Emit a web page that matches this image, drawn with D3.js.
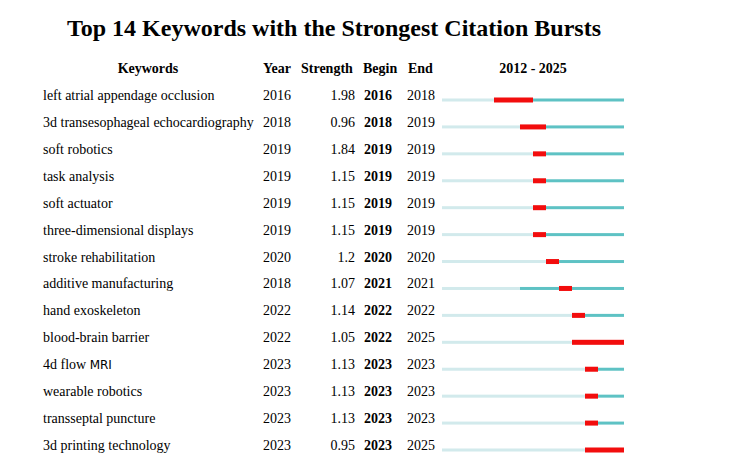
<!DOCTYPE html>
<html><head><meta charset="utf-8">
<script src="https://cdn.jsdelivr.net/npm/d3@7"></script>
<style>body{margin:0;background:#fff}</style>
</head><body>
<script>
const keywords = ["left atrial appendage occlusion","3d transesophageal echocardiography","soft robotics","task analysis","soft actuator","three-dimensional displays","stroke rehabilitation","additive manufacturing","hand exoskeleton","blood-brain barrier","4d flow MRI","wearable robotics","transseptal puncture","3d printing technology"];
const years = [2016,2018,2019,2019,2019,2019,2020,2018,2022,2022,2023,2023,2023,2023];
const strengths = ["1.98","0.96","1.84","1.15","1.15","1.15","1.2","1.07","1.14","1.05","1.13","1.13","1.13","0.95"];
const begins = [2016,2018,2019,2019,2019,2019,2020,2021,2022,2022,2023,2023,2023,2023];
const ends = [2018,2019,2019,2019,2019,2019,2020,2021,2022,2025,2023,2023,2023,2025];
const startYear = 2012, endYear = 2025;
const title = "Top 14 Keywords with the Strongest Citation Bursts";
const headers = ["Keywords","Year","Strength","Begin","End","2012 - 2025"];

const W = 753, H = 464;
const svg = d3.select("body").append("svg").attr("width", W).attr("height", H);
const serif = "'Liberation Serif','Times New Roman',serif";

const x = d3.scaleLinear().domain([startYear, endYear + 1]).range([442, 624]);
const y = d3.scaleLinear().domain([0, keywords.length - 1]).range([97, 447]);

svg.append("text").attr("x", 334).attr("y", 36).attr("text-anchor", "middle")
  .attr("font-family", serif).attr("font-weight", "bold").attr("font-size", 24).text(title);

const hy = 73;
const hdr = [[148,"middle"],[263,"start"],[301,"start"],[363,"start"],[408,"start"],[533,"middle"]];
headers.forEach((h, i) => {
  svg.append("text").attr("x", hdr[i][0]).attr("y", hy).attr("text-anchor", hdr[i][1])
    .attr("font-family", serif).attr("font-weight", "bold").attr("font-size", 14).text(h);
});

const rows = svg.selectAll("g.row").data(keywords.map((k, i) => ({k, i}))).join("g").attr("class", "row");
const fs = 14;
rows.each(function(d) {
  const g = d3.select(this);
  const i = d.i, yy = y(i) + 3;
  const t = g.append("text").attr("x", 43).attr("y", yy).attr("font-family", serif).attr("font-size", fs);
  if (d.k.endsWith("MRI")) {
    t.append("tspan").text(d.k.slice(0, -3));
    t.append("tspan").attr("font-family", "'DejaVu Sans',sans-serif").attr("font-size", 12).text("MRI");
  } else t.text(d.k);
  g.append("text").attr("x", 263).attr("y", yy).attr("font-family", serif).attr("font-size", fs).text(years[i]);
  g.append("text").attr("x", 355).attr("y", yy).attr("text-anchor", "end").attr("font-family", serif).attr("font-size", fs).text(strengths[i]);
  g.append("text").attr("x", 364).attr("y", yy).attr("font-family", serif).attr("font-weight", "bold").attr("font-size", fs).text(begins[i]);
  g.append("text").attr("x", 407).attr("y", yy).attr("font-family", serif).attr("font-size", fs).text(ends[i]);

  const by = y(i) + 3;
  g.append("rect").attr("x", x(startYear)).attr("y", by - 1.5).attr("width", x(years[i]) - x(startYear)).attr("height", 3).attr("fill", "#d2eaec");
  g.append("rect").attr("x", x(years[i])).attr("y", by - 1.5).attr("width", x(endYear + 1) - x(years[i])).attr("height", 3).attr("fill", "#5ec2c4");
  g.append("rect").attr("x", x(begins[i])).attr("y", by - 2.5).attr("width", x(ends[i] + 1) - x(begins[i])).attr("height", 5).attr("fill", "#f20d0d");
});
</script>
</body></html>
